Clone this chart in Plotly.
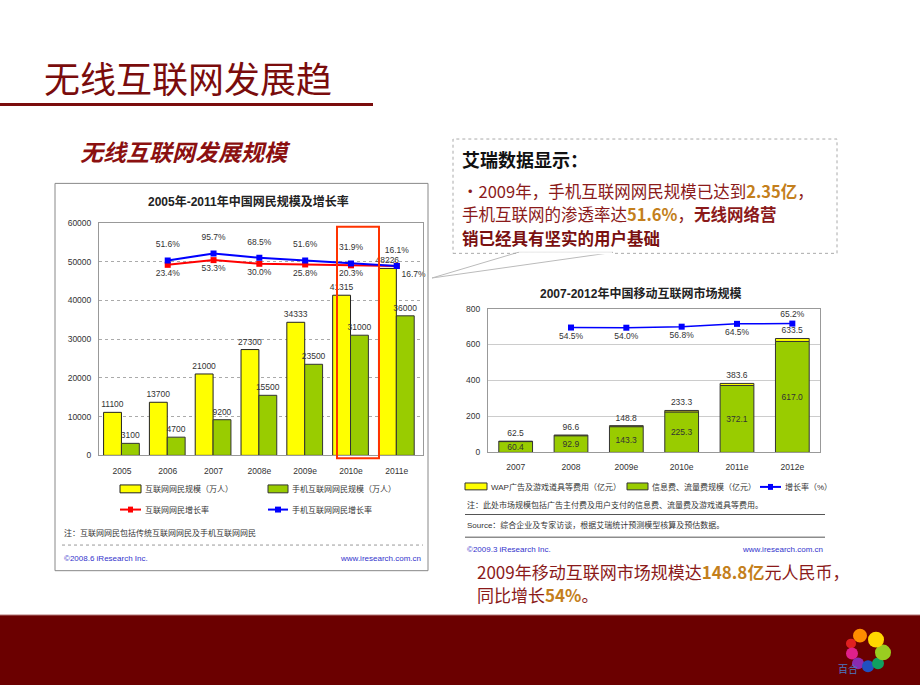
import plotly.graph_objects as go

# ---------------- data ----------------
years_a = ["2005", "2006", "2007", "2008e", "2009e", "2010e", "2011e"]
internet_users = [11100, 13700, 21000, 27300, 34333, 41315, 48226]
mobile_users = [3100, 4700, 9200, 15500, 23500, 31000, 36000]
growth_years_a = ["2006", "2007", "2008e", "2009e", "2010e", "2011e"]
internet_growth = [23.4, 53.3, 30.0, 25.8, 20.3, 16.7]
mobile_growth = [51.6, 95.7, 68.5, 51.6, 31.9, 16.1]

years_b = ["2007", "2008", "2009e", "2010e", "2011e", "2012e"]
info_fee = [60.4, 92.9, 143.3, 225.3, 372.1, 617.0]
market_total = [62.5, 96.6, 148.8, 233.3, 383.6, 633.5]
growth_years_b = ["2008", "2009e", "2010e", "2011e", "2012e"]
market_growth = [54.5, 54.0, 56.8, 64.5, 65.2]

W, H = 920, 690
def px(x): return x / W
def py(y): return 1 - y / H

CJK = "Liberation Sans, Noto Sans CJK SC, sans-serif"
DARKRED = "#8B1A1A"
GOLD = "#C47F1C"
YEL = "#FFFF00"
GRN = "#99CC00"

fig = go.Figure()

# ---------- left chart ----------
fig.add_trace(go.Bar(
    x=years_a, y=internet_users, xaxis="x", yaxis="y",
    marker=dict(color=YEL, line=dict(color="#222", width=1)),
    width=0.39, offset=-0.40,
    text=[str(v) for v in internet_users], textposition="outside",
    textfont=dict(size=8.5, color="#333", family=CJK), cliponaxis=False,
    constraintext="none"))
fig.add_trace(go.Bar(
    x=years_a, y=mobile_users, xaxis="x", yaxis="y",
    marker=dict(color=GRN, line=dict(color="#333", width=1)),
    width=0.39, offset=-0.01,
    text=[str(v) for v in mobile_users], textposition="outside",
    textfont=dict(size=8.5, color="#333", family=CJK), cliponaxis=False,
    constraintext="none"))
fig.add_trace(go.Scatter(
    x=growth_years_a, y=internet_growth, xaxis="x", yaxis="y2",
    mode="lines+markers+text", line=dict(color="#FF0000", width=2),
    marker=dict(symbol="square", size=6, color="#FF0000"),
    text=[f"{v:.1f}%" for v in internet_growth],
    textposition=["bottom center"] * 5 + ["bottom right"],
    textfont=dict(size=8.5, color="#333", family=CJK), cliponaxis=False))
fig.add_trace(go.Scatter(
    x=growth_years_a, y=mobile_growth, xaxis="x", yaxis="y2",
    mode="lines+markers", line=dict(color="#0000FF", width=2),
    marker=dict(symbol="square", size=6, color="#0000FF")))
# labels for the mobile growth line (invisible larger markers push text up)
fig.add_trace(go.Scatter(
    x=growth_years_a, y=mobile_growth, xaxis="x", yaxis="y2",
    mode="markers+text", marker=dict(size=16, opacity=0),
    text=[f"{v:.1f}%" for v in mobile_growth],
    textposition="top center",
    textfont=dict(size=8.5, color="#333", family=CJK), cliponaxis=False))

# ---------- right chart ----------
wap_fee = [t - f for t, f in zip(market_total, info_fee)]
fig.add_trace(go.Bar(
    x=years_b, y=info_fee, xaxis="x2", yaxis="y3",
    marker=dict(color=GRN, line=dict(color="#333", width=1)),
    width=0.61, offset=-0.305,
    text=[f"{v:.1f}" for v in info_fee], textposition="inside",
    insidetextanchor="middle", constraintext="none", textangle=0,
    textfont=dict(size=8.5, color="#333", family=CJK)))
fig.add_trace(go.Bar(
    x=years_b, y=wap_fee, base=info_fee, xaxis="x2", yaxis="y3",
    marker=dict(color=YEL, line=dict(color="#333", width=1)),
    width=0.61, offset=-0.305,
    text=[f"{v:.1f}" for v in market_total], textposition="outside",
    constraintext="none", cliponaxis=False,
    textfont=dict(size=8.5, color="#333", family=CJK)))
fig.add_trace(go.Scatter(
    x=growth_years_b, y=market_growth, xaxis="x2", yaxis="y4",
    mode="lines+markers+text", line=dict(color="#0000FF", width=1.5),
    marker=dict(symbol="square", size=6, color="#0000FF"),
    text=[f"{v:.1f}%" for v in market_growth],
    textposition=["bottom center"] * 4 + ["top center"],
    textfont=dict(size=8.5, color="#333", family=CJK), cliponaxis=False))

axis_font = dict(size=8.5, color="#333", family=CJK)
fig.update_layout(
    width=W, height=H, margin=dict(l=0, r=0, t=0, b=0),
    paper_bgcolor="white", plot_bgcolor="white", showlegend=False,
    barmode="overlay",
    xaxis=dict(domain=[px(99), px(423)], anchor="y", type="category",
               showline=True, linecolor="#999", mirror=True, ticks="",
               tickfont=axis_font, showgrid=False, ticklabelstandoff=7),
    yaxis=dict(domain=[py(457), py(221)], anchor="x", range=[0, 60000],
               dtick=10000, tickformat="d", showgrid=True, gridcolor="#AAAAAA",
               griddash="dot", showline=True, linecolor="#999", mirror=True,
               zeroline=False, tickfont=axis_font, ticks="", ticklabelstandoff=5),
    yaxis2=dict(overlaying="y", anchor="x", range=[-1185, 290], visible=False),
    xaxis2=dict(domain=[px(488), px(820)], anchor="y3", type="category",
                showline=True, linecolor="#999", mirror=True, ticks="",
                tickfont=axis_font, showgrid=False, ticklabelstandoff=6),
    yaxis3=dict(domain=[py(454), py(308)], anchor="x2", range=[0, 800],
                dtick=200, showgrid=True, gridcolor="#CCCCCC",
                showline=True, linecolor="#999", mirror=True,
                zeroline=False, tickfont=axis_font, ticks="", ticklabelstandoff=5),
    yaxis4=dict(overlaying="y3", anchor="x2", range=[-284, 106], visible=False),
)

shapes = []
annos = []

def rect(x0, y0, x1, y1, fill=None, line=None, lw=1, dash="solid"):
    shapes.append(dict(type="rect", xref="paper", yref="paper",
                       x0=px(x0), x1=px(x1), y0=py(y1), y1=py(y0),
                       fillcolor=fill or "rgba(0,0,0,0)",
                       line=dict(color=line or "rgba(0,0,0,0)", width=lw if line else 0, dash=dash),
                       layer="above"))

def line(x0, y0, x1, y1, color, lw=1, dash="solid"):
    shapes.append(dict(type="line", xref="paper", yref="paper",
                       x0=px(x0), x1=px(x1), y0=py(y0), y1=py(y1),
                       line=dict(color=color, width=lw, dash=dash)))

def text(x, y, s, size=8, color="#333", anchor="left", family=CJK, weight=None):
    f = dict(size=size, color=color, family=family)
    if weight:
        f["weight"] = weight
    annos.append(dict(x=px(x), y=py(y), xref="paper", yref="paper", text=s,
                      showarrow=False, xanchor=anchor, yanchor="middle", font=f))

# Slide title
text(42, 73, "无线互联网发展趋", size=36, color="#7A0C0C", family="Noto Sans CJK SC")
line(0, 101, 373, 101, "#7A0C0C", lw=3)
text(78, 148, "<i><b>无线互联网发展规模</b></i>", size=23, color="#8B1010", family="Noto Sans CJK SC")

# Left chart frame & title
rect(55, 181, 428, 574, line="#888", lw=1)
text(248, 199, "<b>2005年-2011年中国网民规模及增长率</b>", size=12, color="#222", anchor="center")
rect(337, 225, 379, 460, line="#FF3300", lw=2)
# left legend
rect(120, 487, 141, 495, fill=YEL, line="#222")
text(143, 491, "互联网网民规模（万人）", size=8)
rect(268, 487, 288, 495, fill=GRN, line="#333")
text(290, 491, "手机互联网网民规模（万人）", size=8)
line(120, 512, 141, 512, "#FF0000", lw=2)
rect(128, 509, 133, 515, fill="#FF0000")
text(143, 512, "互联网网民增长率", size=8)
line(268, 512, 288, 512, "#0000FF", lw=2)
rect(275, 509, 281, 515, fill="#0000FF")
text(290, 512, "手机互联网网民增长率", size=8)
text(62, 536, "注：互联网网民包括传统互联网网民及手机互联网网民", size=8)
line(62, 548, 423, 548, "#999", lw=1, dash="dot")
text(62, 562, "©2008.6 iResearch Inc.", size=8, color="#3333CC")
text(423, 562, "www.iresearch.com.cn", size=8, color="#3333CC", anchor="right")

# Right chart title + legend + notes
text(640, 293, "<b>2007-2012年中国移动互联网市场规模</b>", size=12, color="#222", anchor="center")
rect(465, 485, 487, 492, fill=YEL, line="#333")
text(489, 489, "WAP广告及游戏道具等费用（亿元）", size=8)
rect(627, 485, 648, 492, fill=GRN, line="#333")
text(650, 489, "信息费、流量费规模（亿元）", size=8)
line(760, 489, 781, 489, "#0000FF", lw=2)
rect(768, 486, 773, 492, fill="#0000FF")
text(783, 489, "增长率（%）", size=8)
text(465, 507, "注：此处市场规模包括广告主付费及用户支付的信息费、流量费及游戏道具等费用。", size=8)
line(465, 517, 825, 517, "#555", lw=1)
text(465, 528, "Source：综合企业及专家访谈，根据艾瑞统计预测模型核算及预估数据。", size=8)
line(465, 540, 825, 540, "#555", lw=1)
text(465, 552, "©2009.3 iResearch Inc.", size=8, color="#3333CC")
text(825, 552, "www.iresearch.com.cn", size=8, color="#3333CC", anchor="right")

# Callout box
shapes.append(dict(type="path", xref="paper", yref="paper",
                   path=f"M {px(518)},{py(251)} L {px(432)},{py(277)} L {px(613)},{py(251)} Z",
                   fillcolor="white", line=dict(color="#BBBBBB", width=1)))
rect(453, 136, 837, 252, fill="rgba(255,255,255,0)", line="#AAAAAA", lw=1, dash="dot")
shapes.append(dict(type="line", xref="paper", yref="paper", x0=px(519), x1=px(612),
                   y0=py(252), y1=py(252), line=dict(color="white", width=2)))
text(460, 156, "<b>艾瑞数据显示：</b>", size=18, color="#111", family="Noto Sans CJK SC")
text(460, 189, f"•2009年，手机互联网网民规模已达到<b><span style='color:{GOLD}'>2.35亿</span></b>，",
     size=16.5, color=DARKRED, family="Noto Sans CJK SC")
text(460, 212, f"手机互联网的渗透率达<b><span style='color:{GOLD}'>51.6%</span></b>，<b>无线网络营</b>",
     size=16.5, color=DARKRED, family="Noto Sans CJK SC")
text(460, 236, "<b>销已经具有坚实的用户基础</b>", size=16.5, color="#7A1010", family="Noto Sans CJK SC")

# Bottom text
text(475, 575, f"2009年移动互联网市场规模达<b><span style='color:{GOLD}'>148.8亿</span></b>元人民币，",
     size=17, color=DARKRED, family="Noto Sans CJK SC")
text(475, 598, f"同比增长<b><span style='color:{GOLD}'>54%</span></b>。",
     size=17, color=DARKRED, family="Noto Sans CJK SC")

# Bottom band
rect(0, 619, 920, 690, fill="#6B0000")
line(0, 619, 920, 619, "#B07070", lw=1)
# Logo petals
for (cx, cy, r, c) in [(851, 648, 5, "#E02020"), (852, 658, 6, "#E0208A"),
                       (858, 668, 6, "#8A2BB0"), (868, 671, 6, "#2050C0"),
                       (878, 668, 6, "#10A060"), (883, 657, 8, "#9ACD20"),
                       (876, 644, 8, "#FFD700"), (860, 640, 7, "#FF8C00")]:
    shapes.append(dict(type="circle", xref="paper", yref="paper",
                       x0=px(cx - r), x1=px(cx + r), y0=py(cy + r), y1=py(cy - r),
                       fillcolor=c, line=dict(width=0)))
text(848, 673, "百合", size=10, color="#4A78C0", anchor="center", family="Noto Sans CJK SC")

fig.update_layout(shapes=shapes, annotations=annos)
fig.write_html("out.html", config={"displayModeBar": False},
               post_script="document.body.style.margin='0';document.body.style.overflow='hidden';")
